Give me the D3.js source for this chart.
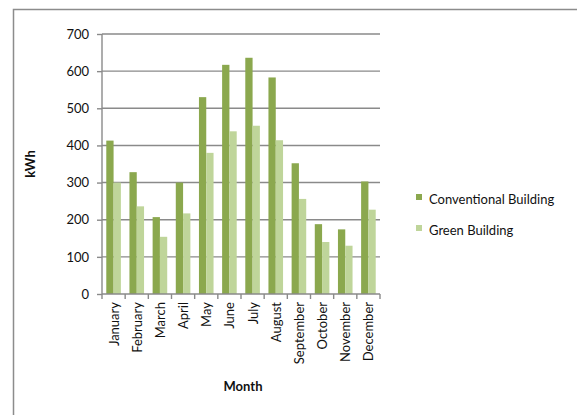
<!DOCTYPE html>
<html><head><meta charset="utf-8">
<script src="https://cdn.jsdelivr.net/npm/d3@7"></script>
<style>body{margin:0;background:#fff}svg{display:block}text{font-family:Lato,"Open Sans",sans-serif;fill:#111}</style>
</head><body><svg id="c" width="577" height="415"></svg>
<script>
const months=["January","February","March","April","May","June","July","August","September","October","November","December"];
const conventional=[413,328,207,300,530,617,636,583,352,188,174,303];
const green=[300,236,154,217,380,438,453,414,256,140,130,227];
const seriesNames=["Conventional Building","Green Building"];
const colors=["#8BA84E","#BFD59A"];
const yTicks=[0,100,200,300,400,500,600,700];

const svg=d3.select("#c");
const L=102,R=380,T=34,B=294;
const FS="13px";
svg.append("path").attr("d","M13.5,415V9.5H577").attr("fill","none").attr("stroke","#8c8c8c").attr("stroke-width",1.5);

const x=d3.scaleBand().domain(months).range([L,R]).paddingInner(0.37).paddingOuter(0.185);
const xs=d3.scaleBand().domain(seriesNames).range([0,x.bandwidth()]);
const y=d3.scaleLinear().domain([0,700]).range([B,T]);

// gridlines
svg.append("g").selectAll("line").data(yTicks.filter(d=>d>0)).join("line")
 .attr("x1",L).attr("x2",R).attr("y1",d=>y(d)).attr("y2",d=>y(d))
 .attr("stroke","#8a8a8a").attr("stroke-width",1.4);

// bars
const data=[conventional,green];
const g=svg.append("g");
months.forEach((m,i)=>{
  seriesNames.forEach((s,j)=>{
    g.append("rect").attr("x",x(m)+xs(s)).attr("width",xs.bandwidth())
     .attr("y",y(data[j][i])).attr("height",B-y(data[j][i])).attr("fill",colors[j]);
  });
});

// y axis
const ya=svg.append("g").attr("transform",`translate(${L},0)`).call(d3.axisLeft(y).tickValues(yTicks).tickSize(5).tickPadding(8));
ya.select(".domain").attr("stroke","#8a8a8a").attr("stroke-width",1.4).attr("d",`M0,${T}V${B}`);
ya.selectAll(".tick line").attr("stroke","#8a8a8a").attr("stroke-width",1.4);
ya.selectAll("text").style("font-size",FS).style("font-family","Lato,sans-serif").attr("fill","#111");

// x axis
const xa=svg.append("g").attr("transform",`translate(0,${B})`);
xa.append("line").attr("x1",L).attr("x2",R).attr("stroke","#8a8a8a").attr("stroke-width",1.4);
xa.selectAll("line.t").data(d3.range(13)).join("line").attr("class","t")
 .attr("x1",i=>L+i*(R-L)/12).attr("x2",i=>L+i*(R-L)/12).attr("y1",0).attr("y2",5)
 .attr("stroke","#8a8a8a").attr("stroke-width",1.4);
xa.selectAll("text").data(months).join("text")
 .attr("transform",d=>`translate(${x(d)+x.bandwidth()/2+5},8) rotate(-90)`)
 .attr("text-anchor","end").style("font-size",FS).text(d=>d);

// titles
svg.append("text").attr("x",243).attr("y",391).attr("text-anchor","middle").style("font-size",FS).style("font-weight","bold").text("Month");
svg.append("text").attr("transform","translate(35,164) rotate(-90)").attr("text-anchor","middle").style("font-size",FS).style("font-weight","bold").text("kWh");

// legend
const lg=svg.append("g");
seriesNames.forEach((s,j)=>{
  const yy=199+j*31;
  lg.append("rect").attr("x",416).attr("y",yy-5).attr("width",6).attr("height",6).attr("fill",colors[j]);
  lg.append("text").attr("x",429).attr("y",yy+5).style("font-size",FS).text(s);
});
</script></body></html>
